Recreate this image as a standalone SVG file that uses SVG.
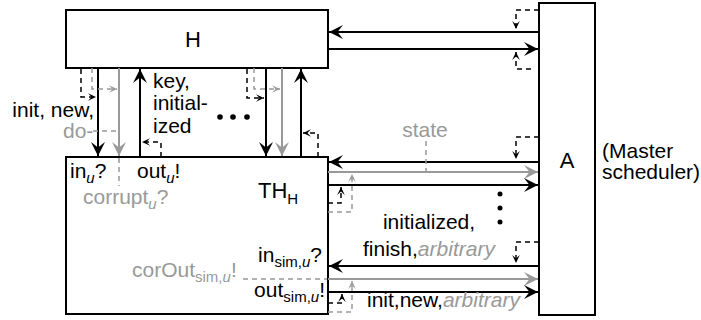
<svg xmlns="http://www.w3.org/2000/svg" width="701" height="320" viewBox="0 0 701 320">
  <defs>
    <style>
      .box { fill: #fff; stroke: #000; stroke-width: 2; }
      .t { font-family: "Liberation Sans", Arial, sans-serif; font-size: 21px; fill: #000; }
      .g { fill: #999; }
      .it { font-style: italic; }
      .sub { font-size: 15px; }
      .big { font-size: 22px; }
      .blk { fill: none; stroke: #000; stroke-width: 2; }
      .gry { fill: none; stroke: #999; stroke-width: 2; }
      .dk { fill: none; stroke: #000; stroke-width: 1.5; stroke-dasharray: 5 4; }
      .dg { fill: none; stroke: #999; stroke-width: 1.5; stroke-dasharray: 5 4; }
    </style>
    <marker id="ak" viewBox="-15 -8 16 16" refX="0" refY="0" markerWidth="16" markerHeight="16" orient="auto" markerUnits="userSpaceOnUse">
      <path d="M-14,-7 L0,0 L-14,7 L-8.5,0 Z" fill="#000"/>
    </marker>
    <marker id="ag" viewBox="-15 -8 16 16" refX="0" refY="0" markerWidth="16" markerHeight="16" orient="auto" markerUnits="userSpaceOnUse">
      <path d="M-14,-7 L0,0 L-14,7 L-8.5,0 Z" fill="#999"/>
    </marker>
    <marker id="sk" viewBox="-9 -5 10 10" refX="0" refY="0" markerWidth="10" markerHeight="10" orient="auto" markerUnits="userSpaceOnUse">
      <path d="M-8,-3.8 L0,0 L-8,3.8 L-4.5,0 Z" fill="#000"/>
    </marker>
    <marker id="sg" viewBox="-9 -5 10 10" refX="0" refY="0" markerWidth="10" markerHeight="10" orient="auto" markerUnits="userSpaceOnUse">
      <path d="M-8,-3.8 L0,0 L-8,3.8 L-4.5,0 Z" fill="#999"/>
    </marker>
  </defs>

  <rect width="701" height="320" fill="#fff"/>

  <!-- nodes -->
  <g id="node-H">
    <rect class="box" x="66" y="10" width="262" height="58"/>
    <text class="t big" x="193" y="47" text-anchor="middle">H</text>
  </g>

  <g id="node-THH">
    <rect class="box" x="66" y="157" width="262" height="157"/>
    <text class="t big" x="258" y="198">TH<tspan class="sub" dy="6">H</tspan></text>
    <text class="t" x="70" y="178">in<tspan class="sub it" dy="5">u</tspan><tspan dy="-5">?</tspan></text>
    <text class="t" x="137" y="178">out<tspan class="sub it" dy="5">u</tspan><tspan dy="-5">!</tspan></text>
    <text class="t g" x="83" y="204">corrupt<tspan class="sub it" dy="5">u</tspan><tspan dy="-5">?</tspan></text>
    <text class="t" x="322" y="262" text-anchor="end">in<tspan class="sub" dy="5">sim,</tspan><tspan class="sub it">u</tspan><tspan dy="-5">?</tspan></text>
    <text class="t g" x="132" y="277">corOut<tspan class="sub" dy="5">sim,</tspan><tspan class="sub it">u</tspan><tspan dy="-5">!</tspan></text>
    <text class="t" x="325" y="297" text-anchor="end">out<tspan class="sub" dy="5">sim,</tspan><tspan class="sub it">u</tspan><tspan dy="-5">!</tspan></text>
  </g>

  <g id="node-A">
    <rect class="box" x="539" y="3" width="56" height="312"/>
    <text class="t big" x="567" y="168" text-anchor="middle">A</text>
    <text class="t" x="602" y="158">(Master</text>
    <text class="t" x="602" y="179">scheduler)</text>
  </g>

  <!-- connectors -->
  <g id="connectors">
    <!-- H <-> A -->
    <line class="blk" x1="539" y1="32" x2="329" y2="32" marker-end="url(#ak)"/>
    <line class="blk" x1="328" y1="49" x2="538" y2="49" marker-end="url(#ak)"/>
    <path class="dk" d="M539,10 H516 V29" marker-end="url(#sk)"/>
    <path class="dk" d="M531,69 H516 V52" marker-end="url(#sk)"/>

    <!-- H <-> TH, left group -->
    <line class="blk" x1="98" y1="68" x2="98" y2="156" marker-end="url(#ak)"/>
    <line class="gry" x1="119" y1="68" x2="119" y2="156" marker-end="url(#ag)"/>
    <line class="blk" x1="140" y1="157" x2="140" y2="69" marker-end="url(#ak)"/>
    <path class="dg" d="M92,68 V89 H117" marker-end="url(#sg)"/>
    <path class="dk" d="M81,69 V97 H96" marker-end="url(#sk)"/>
    <path class="dk" d="M161,157 V142 H142" marker-end="url(#sk)"/>

    <!-- H <-> TH, right group -->
    <line class="blk" x1="266" y1="68" x2="266" y2="156" marker-end="url(#ak)"/>
    <line class="gry" x1="282" y1="68" x2="282" y2="156" marker-end="url(#ag)"/>
    <line class="blk" x1="301" y1="157" x2="301" y2="69" marker-end="url(#ak)"/>
    <path class="dg" d="M254,68 V89 H280" marker-end="url(#sg)"/>
    <path class="dk" d="M247,69 V98 H264" marker-end="url(#sk)"/>
    <path class="dk" d="M318,157 V133 H303" marker-end="url(#sk)"/>

    <!-- TH <-> A, upper group -->
    <line class="blk" x1="539" y1="162" x2="329" y2="162" marker-end="url(#ak)"/>
    <line class="gry" x1="328" y1="172" x2="538" y2="172" marker-end="url(#ag)"/>
    <line class="blk" x1="328" y1="185" x2="538" y2="185" marker-end="url(#ak)"/>
    <path class="dk" d="M539,137 H516 V159" marker-end="url(#sk)"/>
    <path class="dg" d="M328,212 H352 V174" marker-end="url(#sg)"/>
    <path class="dk" d="M328,203 H341 V187" marker-end="url(#sk)"/>

    <!-- TH <-> A, lower group -->
    <line class="blk" x1="539" y1="266" x2="329" y2="266" marker-end="url(#ak)"/>
    <line class="gry" x1="328" y1="279" x2="538" y2="279" marker-end="url(#ag)"/>
    <line class="blk" x1="328" y1="292" x2="538" y2="292" marker-end="url(#ak)"/>
    <path class="dk" d="M539,242 H516 V263" marker-end="url(#sk)"/>
    <path class="dg" d="M328,312 H352 V281" marker-end="url(#sg)"/>
    <path class="dk" d="M328,303 H342 V294" marker-end="url(#sk)"/>

    <!-- label leaders -->
    <path class="dg" d="M93,131 H118"/>
    <path class="dg" d="M119,158 V186"/>
    <path class="dg" d="M426,141 V171"/>
    <path class="dg" d="M243,279 H327"/>
  </g>

  <!-- connector labels -->
  <g id="labels">
    <text class="t" x="94" y="117" text-anchor="end">init, new,</text>
    <text class="t g" x="63" y="138">do-</text>
    <text class="t" x="153" y="88">key,</text>
    <text class="t" x="153" y="110">initial-</text>
    <text class="t" x="153" y="133">ized</text>
    <circle cx="220" cy="117" r="2.8"/>
    <circle cx="233" cy="117" r="2.8"/>
    <circle cx="247" cy="117" r="2.8"/>
    <text class="t g" x="425" y="137" text-anchor="middle">state</text>
    <circle cx="500" cy="194" r="2.5"/>
    <circle cx="500" cy="208" r="2.5"/>
    <circle cx="500" cy="222" r="2.5"/>
    <text class="t" x="429" y="229" text-anchor="middle">initialized,</text>
    <text class="t" x="363" y="256">finish,<tspan class="g it">arbitrary</tspan></text>
    <text class="t" x="367" y="307">init,new,<tspan class="g it">arbitrary</tspan></text>
  </g>
</svg>
